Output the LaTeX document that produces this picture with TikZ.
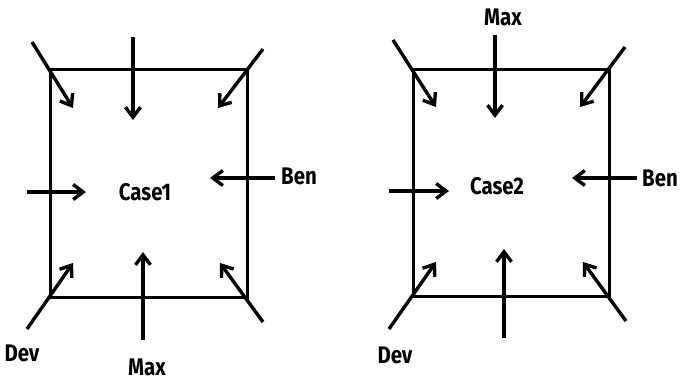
\documentclass[tikz,border=0pt]{standalone}
\usepackage{fontspec}
\setmainfont{Fira Sans}[FakeStretch=0.85]
\usetikzlibrary{arrows.meta}
\tikzset{
  box/.style={draw=black,line width=3.2pt,inner sep=0pt,minimum width=197pt,minimum height=228pt,anchor=north west},
  arr/.style={line width=3.4pt,-{Straight Barb[length=10pt,width=15pt,line width=3.4pt]}},
  lbl/.style={font=\bfseries\fontsize{24}{26}\selectfont,inner sep=0pt,text=black}
}
\begin{document}
\begin{tikzpicture}[x=1pt,y=-1pt]
\useasboundingbox (0,0) rectangle (681,383);
% ---------- Case 1 ----------
\node[box] (r1) at (49,68) {};
\node[lbl] (c1) at (145,192) {Case1};
\node[lbl] (ben1) at (299,176) {Ben};
\node[lbl] (dev1) at (22,353) {Dev};
\node[lbl] (max1) at (147,367) {Max};
\coordinate (a1s) at (32,42);  \coordinate (a1e) at (73,108);
\coordinate (a2s) at (133,37); \coordinate (a2e) at (133,120);
\coordinate (a3s) at (263,49); \coordinate (a3e) at (218,108);
\coordinate (a4s) at (27,192); \coordinate (a4e) at (86,192);
\coordinate (a5s) at (275,178); \coordinate (a5e) at (210,178);
\coordinate (a6s) at (27,329); \coordinate (a6e) at (73,263);
\coordinate (a7s) at (143,340); \coordinate (a7e) at (143,252);
\coordinate (a8s) at (263,322); \coordinate (a8e) at (220,263);
\foreach \i in {1,...,8} \draw[arr] (a\i s) -- (a\i e);
% ---------- Case 2 ----------
\node[box,minimum width=196pt,minimum height=227pt] (r2) at (412,68) {};
\node[lbl] (c2) at (497,186) {Case2};
\node[lbl] (ben2) at (660,178) {Ben};
\node[lbl] (dev2) at (395,355) {Dev};
\node[lbl] (max2) at (503,17) {Max};
\coordinate (b1s) at (393,40);  \coordinate (b1e) at (436,107);
\coordinate (b2s) at (495,35);  \coordinate (b2e) at (495,118);
\coordinate (b3s) at (625,47);  \coordinate (b3e) at (580,107);
\coordinate (b4s) at (389,191); \coordinate (b4e) at (449,191);
\coordinate (b5s) at (637,178); \coordinate (b5e) at (572,178);
\coordinate (b6s) at (389,329); \coordinate (b6e) at (436,262);
\coordinate (b7s) at (504,338); \coordinate (b7e) at (504,249);
\coordinate (b8s) at (626,321); \coordinate (b8e) at (583,262);
\foreach \i in {1,...,8} \draw[arr] (b\i s) -- (b\i e);
\end{tikzpicture}
\end{document}
